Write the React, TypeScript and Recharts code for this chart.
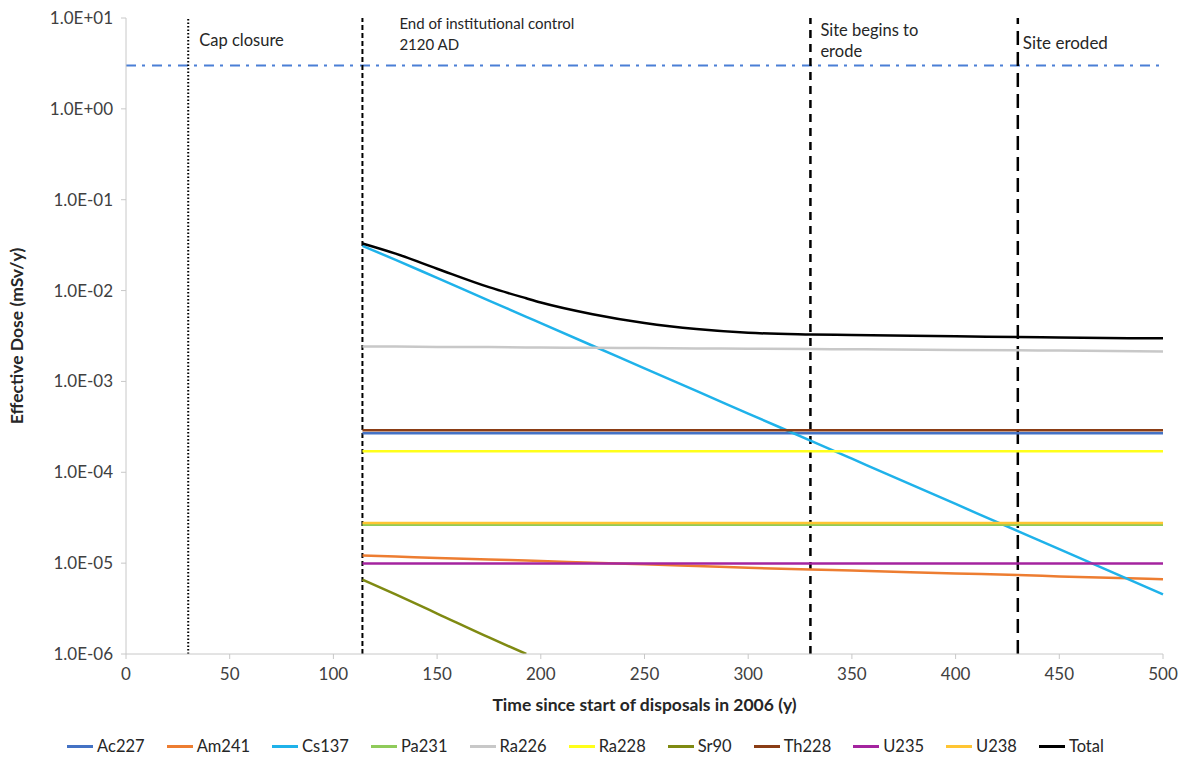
import { Label, Legend, Line, LineChart, ReferenceLine, XAxis, YAxis } from 'recharts';

// Years (since start of disposals in 2006) at which doses are tabulated
const years = [114, 130, 150, 175, 193, 200, 225, 250, 275, 300, 330, 350, 400, 430, 450, 500];

// Effective dose per radionuclide, mSv/y
const ac227 = [2.69e-4, 2.69e-4, 2.69e-4, 2.69e-4, 2.69e-4, 2.69e-4, 2.69e-4, 2.69e-4, 2.69e-4, 2.69e-4, 2.69e-4, 2.69e-4, 2.69e-4, 2.69e-4, 2.69e-4, 2.69e-4];
const am241 = [1.21e-5, 1.18e-5, 1.14e-5, 1.1e-5, 1.067e-5, 1.055e-5, 1.01e-5, 9.7e-6, 9.3e-6, 8.9e-6, 8.5e-6, 8.3e-6, 7.7e-6, 7.4e-6, 7.15e-6, 6.65e-6];
const cs137 = [3.1e-2, 2.18e-2, 1.377e-2, 7.77e-3, 5.14e-3, 4.38e-3, 2.47e-3, 1.39e-3, 7.86e-4, 4.43e-4, 2.23e-4, 1.41e-4, 4.48e-5, 2.25e-5, 1.43e-5, 4.54e-6];
const pa231 = [2.64e-5, 2.64e-5, 2.64e-5, 2.64e-5, 2.64e-5, 2.64e-5, 2.64e-5, 2.64e-5, 2.64e-5, 2.64e-5, 2.64e-5, 2.64e-5, 2.64e-5, 2.64e-5, 2.64e-5, 2.64e-5];
const ra226 = [2.43e-3, 2.42e-3, 2.4e-3, 2.39e-3, 2.37e-3, 2.36e-3, 2.35e-3, 2.33e-3, 2.31e-3, 2.29e-3, 2.27e-3, 2.26e-3, 2.22e-3, 2.2e-3, 2.19e-3, 2.14e-3];
const ra228 = [1.7e-4, 1.7e-4, 1.7e-4, 1.7e-4, 1.7e-4, 1.7e-4, 1.7e-4, 1.7e-4, 1.7e-4, 1.7e-4, 1.7e-4, 1.7e-4, 1.7e-4, 1.7e-4, 1.7e-4, 1.7e-4];
const sr90 = [6.6e-6, 4.52e-6, 2.79e-6, 1.52e-6, 1.0e-6, null, null, null, null, null, null, null, null, null, null, null];
const th228 = [2.9e-4, 2.9e-4, 2.9e-4, 2.9e-4, 2.9e-4, 2.9e-4, 2.9e-4, 2.9e-4, 2.9e-4, 2.9e-4, 2.9e-4, 2.9e-4, 2.9e-4, 2.9e-4, 2.9e-4, 2.9e-4];
const u235 = [9.9e-6, 9.9e-6, 9.9e-6, 9.9e-6, 9.9e-6, 9.9e-6, 9.9e-6, 9.9e-6, 9.9e-6, 9.9e-6, 9.9e-6, 9.9e-6, 9.9e-6, 9.9e-6, 9.9e-6, 9.9e-6];
const u238 = [2.77e-5, 2.77e-5, 2.77e-5, 2.77e-5, 2.77e-5, 2.77e-5, 2.77e-5, 2.77e-5, 2.77e-5, 2.77e-5, 2.77e-5, 2.77e-5, 2.77e-5, 2.77e-5, 2.77e-5, 2.77e-5];
const total = [3.3e-2, 2.55e-2, 1.74e-2, 1.09e-2, 8.22e-3, 7.4e-3, 5.5e-3, 4.4e-3, 3.77e-3, 3.43e-3, 3.29e-3, 3.24e-3, 3.14e-3, 3.08e-3, 3.04e-3, 2.98e-3];

const xTicks = [0, 50, 100, 150, 200, 250, 300, 350, 400, 450, 500];
const yTicks = [1e-6, 1e-5, 1e-4, 1e-3, 1e-2, 1e-1, 1, 10];
const yTickLabels = ['1.0E-06', '1.0E-05', '1.0E-04', '1.0E-03', '1.0E-02', '1.0E-01', '1.0E+00', '1.0E+01'];

// Dose constraint and milestone years
const doseLimit = 3;
const capClosure = 30;
const endOfControl = 114;
const erosionStart = 330;
const erosionEnd = 430;

const series = [
  { key: 'Ac227', values: ac227, color: '#4472c4' },
  { key: 'Am241', values: am241, color: '#ed7d31' },
  { key: 'Cs137', values: cs137, color: '#1fb2ea' },
  { key: 'Pa231', values: pa231, color: '#8fcb5a' },
  { key: 'Ra226', values: ra226, color: '#c8c8c8' },
  { key: 'Ra228', values: ra228, color: '#ffff1a' },
  { key: 'Sr90', values: sr90, color: '#7f8a12' },
  { key: 'Th228', values: th228, color: '#8a3d15' },
  { key: 'U235', values: u235, color: '#a4249f' },
  { key: 'U238', values: u238, color: '#ffc533' },
  { key: 'Total', values: total, color: '#000000' }
];

const data = years.map((year, i) => {
  const row: Record<string, number | null> = { year };
  series.forEach((s) => {
    row[s.key] = s.values[i];
  });
  return row;
});

const FONT = 'Lato, "Open Sans", sans-serif';

function note(lines: string[], dx: number, baselines: number[], size: number) {
  return (props: any) => {
    const { x, y } = props.viewBox;
    return (
      <text fontSize={size} fill="#262626" fontFamily={FONT}>
        {lines.map((line, i) => (
          <tspan key={line} x={x + dx} y={y + baselines[i]}>
            {line}
          </tspan>
        ))}
      </text>
    );
  };
}

// Legend keeps the series order instead of sorting by name
function LegendRow() {
  return (
    <div
      style={{
        height: 24,
        display: 'flex',
        justifyContent: 'center',
        alignItems: 'center',
        gap: 22,
        fontFamily: FONT,
        fontSize: 16.5,
        color: '#262626',
        paddingLeft: 4
      }}
    >
      {series.map((s) => (
        <div key={s.key} style={{ display: 'flex', alignItems: 'center' }}>
          <span style={{ display: 'inline-block', width: 26, height: 3, background: s.color, marginRight: 4 }} />
          {s.key}
        </div>
      ))}
    </div>
  );
}

export default function App() {
  return (
    <div style={{ position: 'absolute', left: 0, top: 0, background: '#fff' }}>
      <LineChart
        width={1184}
        height={758}
        data={data}
        margin={{ top: 18, right: 21, left: 4, bottom: 0 }}
        style={{ fontFamily: FONT }}
      >
        <XAxis
          dataKey="year"
          type="number"
          domain={[0, 500]}
          ticks={xTicks}
          tick={{ fill: '#404040', fontSize: 17 }}
          tickSize={5}
          tickMargin={9}
          stroke="#c8c8c8"
          height={80}
        >
          <Label
            value="Time since start of disposals in 2006 (y)"
            position="insideBottom"
            offset={23}
            style={{ fontWeight: 700, fontSize: 17.5, fill: '#262626' }}
          />
        </XAxis>
        <YAxis
          type="number"
          scale="log"
          domain={[1e-6, 10]}
          allowDataOverflow
          ticks={yTicks}
          tickFormatter={(v: number) => yTickLabels[yTicks.indexOf(v)] ?? ''}
          tick={{ fill: '#404040', fontSize: 17 }}
          tickSize={5}
          tickMargin={8}
          stroke="#c8c8c8"
          width={122}
        >
          <Label
            content={(props: any) => {
              const { x, y, height } = props.viewBox;
              const cx = x + 12;
              const cy = y + height / 2;
              return (
                <text
                  x={cx}
                  y={cy}
                  transform={`rotate(-90, ${cx}, ${cy})`}
                  textAnchor="middle"
                  dominantBaseline="central"
                  fontSize={17.5}
                  fontWeight={700}
                  fill="#262626"
                  fontFamily={FONT}
                >
                  Effective Dose (mSv/y)
                </text>
              );
            }}
          />
        </YAxis>

        <ReferenceLine y={doseLimit} stroke="#4a7fd6" strokeWidth={2} strokeDasharray="10 6 3 7" />
        <ReferenceLine
          x={capClosure}
          stroke="#000"
          strokeWidth={2}
          strokeDasharray="1.5 2"
          label={note(['Cap closure'], 11, [28], 16.5)}
        />
        <ReferenceLine
          x={endOfControl}
          stroke="#000"
          strokeWidth={2}
          strokeDasharray="5 3"
          label={note(['End of institutional control', '2120 AD'], 37, [11, 32], 15)}
        />
        <ReferenceLine
          x={erosionStart}
          stroke="#000"
          strokeWidth={2.5}
          strokeDasharray="8 6"
          label={note(['Site begins to', 'erode'], 10, [18, 39], 16.5)}
        />
        <ReferenceLine
          x={erosionEnd}
          stroke="#000"
          strokeWidth={2.5}
          strokeDasharray="14 7"
          label={note(['Site eroded'], 5, [31], 17)}
        />

        {series.map((s) => (
          <Line
            key={s.key}
            dataKey={s.key}
            name={s.key}
            type="monotone"
            stroke={s.color}
            strokeWidth={2.5}
            dot={false}
            activeDot={false}
            connectNulls={false}
            isAnimationActive={false}
          />
        ))}

        <Legend verticalAlign="bottom" content={<LegendRow />} />
      </LineChart>
    </div>
  );
}
